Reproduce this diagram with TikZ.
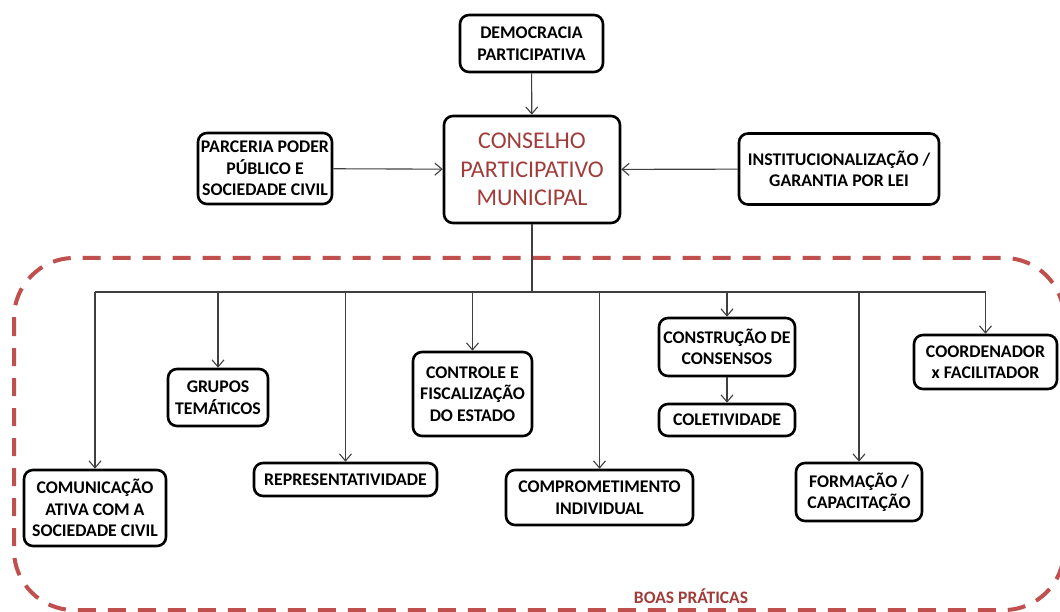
\documentclass[tikz,border=0pt]{standalone}
\usepackage{fontspec}
\setmainfont{Carlito}
\usetikzlibrary{arrows.meta}

\definecolor{boasred}{HTML}{C0504D}
\definecolor{conred}{HTML}{A03D3B}
\definecolor{linhacor}{HTML}{3F3F3F}

\tikzset{
  caixa/.style={draw,line width=2.6pt,rounded corners=9pt,fill=white,align=center,
    inner sep=2pt,font=\fontsize{17.8}{21.5}\selectfont\bfseries},
  linha/.style={draw=linhacor,line width=1.1pt},
  seta/.style={linha,-{Straight Barb[length=7pt,width=12pt]}}
}

\begin{document}
\begin{tikzpicture}[x=1pt,y=-1pt]
    \useasboundingbox (0,0) rectangle (1060,612);
    \fill[white] (0,0) rectangle (1060,612);
    % boas praticas
    \draw[boasred,line width=4pt,dash pattern=on 18pt off 12pt,rounded corners=60pt]
      (14,258) rectangle (1064,610);
    \node[font=\fontsize{17.5}{20}\selectfont\bfseries,text=conred] (boas) at (691,596) {BOAS PRÁTICAS};

    % topo
    \node[caixa,minimum width=143,minimum height=57] (demo) at (531.5,43.5) {DEMOCRACIA\\PARTICIPATIVA};
    \node[caixa,font=\fontsize{24}{28.5}\selectfont,text=conred,minimum width=176,minimum height=107]
      (cons) at (532,169.5) {CONSELHO\\PARTICIPATIVO\\MUNICIPAL};
    \node[caixa,minimum width=134,minimum height=71] (parc) at (265,168.5) {PARCERIA PODER\\PÚBLICO E\\SOCIEDADE CIVIL};
    \node[caixa,minimum width=200,minimum height=71] (inst) at (839,169) {INSTITUCIONALIZAÇÃO /\\GARANTIA POR LEI};

    % praticas
    \node[caixa,minimum width=142,minimum height=76] (comun) at (95,508) {COMUNICAÇÃO\\ATIVA COM A\\SOCIEDADE CIVIL};
    \node[caixa,minimum width=100,minimum height=57] (grupos) at (218,397.5) {GRUPOS\\TEMÁTICOS};
    \node[caixa,minimum width=183,minimum height=33] (repr) at (345.5,479.5) {REPRESENTATIVIDADE};
    \node[caixa,minimum width=119,minimum height=84] (ctrl) at (472.5,394) {CONTROLE E\\FISCALIZAÇÃO\\DO ESTADO};
    \node[caixa,minimum width=187,minimum height=55] (compr) at (599.5,497.5) {COMPROMETIMENTO\\INDIVIDUAL};
    \node[caixa,minimum width=136,minimum height=58] (consen) at (727,347) {CONSTRUÇÃO DE\\CONSENSOS};
    \node[caixa,minimum width=136,minimum height=32] (colet) at (727,420) {COLETIVIDADE};
    \node[caixa,minimum width=126,minimum height=58] (form) at (859,492) {FORMAÇÃO /\\CAPACITAÇÃO};
    \node[caixa,minimum width=143,minimum height=54] (coord) at (985.5,362) {COORDENADOR\\x FACILITADOR};

    % ligacoes
    \draw[seta] (demo) -- (cons);
    \draw[seta] (parc) -- (cons);
    \draw[seta] (inst) -- (cons);
    \coordinate (juncao) at (532,292);
    \draw[linha] (cons) -- (juncao);
    \draw[linha] (comun.north |- juncao) -- (coord.north |- juncao);
    \foreach \n in {comun,grupos,repr,ctrl,compr,consen,form,coord}
      \draw[seta] (\n.north |- juncao) -- (\n);
    \draw[seta] (consen) -- (colet);
  \end{tikzpicture}
\end{document}
